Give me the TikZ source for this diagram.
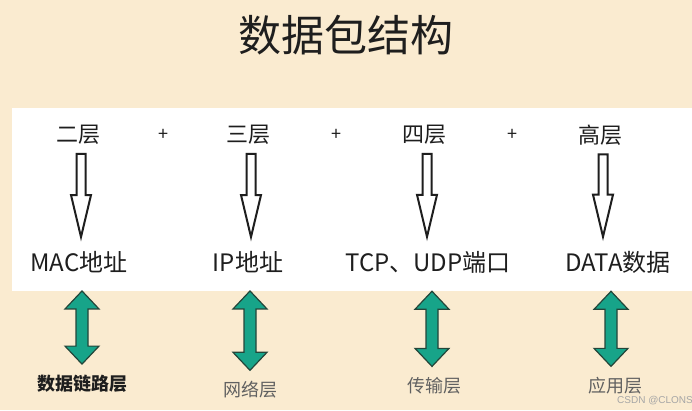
\documentclass[tikz,border=0pt]{standalone}
\usepackage{fontspec}
\setmainfont{Noto Sans CJK SC}
\newfontfamily\markfont{Liberation Sans}
\usetikzlibrary{calc}
\definecolor{Paper}{HTML}{FAEBD0}
\definecolor{Ink}{HTML}{1E1E1E}
\definecolor{Teal}{HTML}{17A489}
\definecolor{TealEdge}{HTML}{23463A}
\newcommand{\HollowDown}[2]{%
  \draw[Ink,line width=2pt,line join=miter] let \p1=($(#1.south)+(3pt,-9pt)$), \p2=($(#2.north)+(0,14pt)$) in
    (\x1-4.5pt,\y1) -- (\x1+4.5pt,\y1) -- (\x1+4.5pt,\y2+42pt) -- (\x1+10pt,\y2+42pt) -- (\x1,\y2)
    -- (\x1-10pt,\y2+42pt) -- (\x1-4.5pt,\y2+42pt) -- cycle;%
}
\newcommand{\TealBoth}[3][0pt]{%
  \draw[fill=Teal,draw=TealEdge,line width=1.2pt] let \p1=($(#2.south)+(0,-18pt)$), \p2=($(#3.north)+(#1,11pt)$) in
    (\x2,\y1) -- (\x2+17pt,\y1-18pt) -- (\x2+6pt,\y1-18pt) -- (\x2+6pt,\y2+18pt) -- (\x2+17pt,\y2+18pt)
    -- (\x2,\y2) -- (\x2-17pt,\y2+18pt) -- (\x2-6pt,\y2+18pt) -- (\x2-6pt,\y1-18pt) -- (\x2-17pt,\y1-18pt) -- cycle;%
}
\tikzset{
  toplabel/.style={inner sep=0pt,text=Ink,font=\fontsize{22}{22}\selectfont},
  addrlabel/.style={inner sep=0pt,text=Ink,font=\fontsize{24}{24}\selectfont},
  layerlabel/.style={inner sep=0pt,text=Ink!70,font=\fontsize{18}{18}\selectfont}
}

\begin{document}
\begin{tikzpicture}[x=1pt,y=1pt]
\useasboundingbox (0,0) rectangle (692,410);
\fill[Paper] (0,0) rectangle (692,410);
\fill[white] (12,119) rectangle (692,302);
\node[inner sep=0pt,text=Ink,font=\fontsize{43}{43}\selectfont] (title) at (346,375) {数据包结构};
\node[toplabel] (l2) at (78,275) {二层};
\node[toplabel] (l3) at (248,275) {三层};
\node[toplabel] (l4) at (424,275) {四层};
\node[toplabel] (lh) at (600,275) {高层};
\foreach \a/\b/\n in {l2/l3/p1,l3/l4/p2,l4/lh/p3} {
  \node[inner sep=0pt,text=Ink,font=\fontsize{18}{18}\selectfont] (\n) at ($(\a)!0.5!(\b)$) {+};
}
\node[addrlabel] (mac) at (79,148) {MAC地址};
\node[addrlabel] (ip) at (248,148) {IP地址};
\node[addrlabel] (port) at (428,148) {TCP、UDP端口};
\node[addrlabel] (data) at (618,148) {DATA数据};
\HollowDown{l2}{mac}
\HollowDown{l3}{ip}
\HollowDown{l4}{port}
\HollowDown{lh}{data}
\node[layerlabel,text=Ink,font=\fontsize{18}{18}\selectfont\bfseries] (dl) at (82,26) {数据链路层};
\node[layerlabel] (net) at (250,20) {网络层};
\node[layerlabel] (trans) at (434,24) {传输层};
\node[layerlabel] (app) at (615,24) {应用层};
\TealBoth{mac}{dl}
\TealBoth{ip}{net}
\TealBoth[-2pt]{port}{trans}
\TealBoth[-4pt]{data}{app}
\node[inner sep=0pt,text=gray!70,font=\markfont\fontsize{10}{10}\selectfont] (mark) at (655,9) {CSDN @CLONS};
\end{tikzpicture}
\end{document}
